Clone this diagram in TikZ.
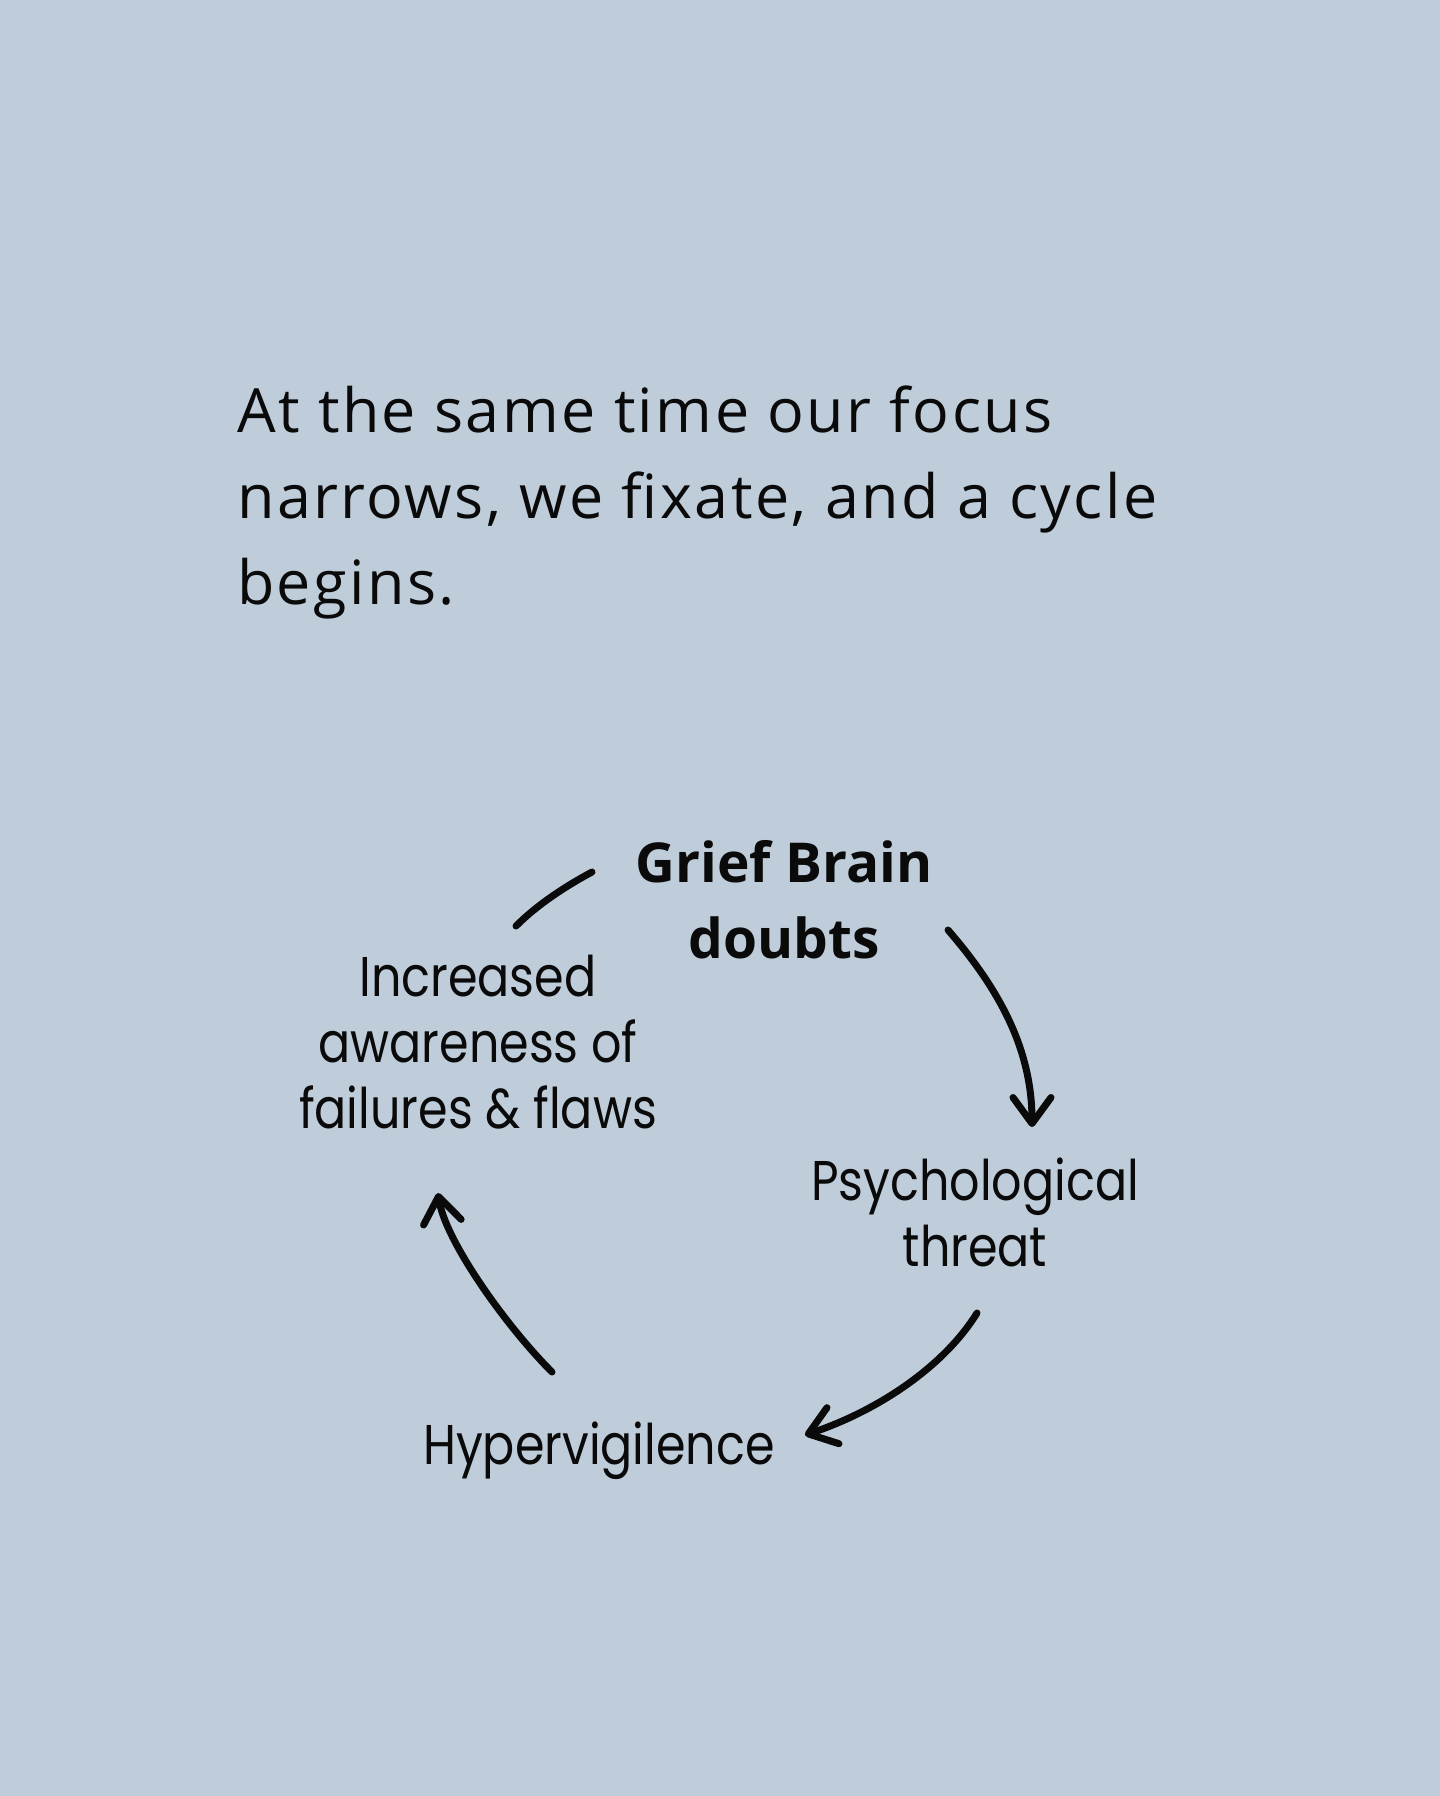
\documentclass[tikz,border=0pt]{standalone}
\usepackage{fontspec}
\setmainfont{Open Sans}
\newfontfamily\titlefont[LetterSpace=4]{Open Sans}
\newfontfamily\boldfont{Open Sans Bold}
\newfontfamily\geofont[FakeStretch=0.85]{Poppins}
\usetikzlibrary{arrows.meta}
\definecolor{bg}{RGB}{191,205,219}
\definecolor{ink}{RGB}{10,10,10}
\tikzset{
  titletext/.style={anchor=base west, inner sep=0pt, align=left, text=ink,
    font=\titlefont\fontsize{61}{86}\selectfont},
  boldlabel/.style={anchor=base, inner sep=0pt, align=center, text=ink,
    font=\boldfont\fontsize{55}{76}\selectfont},
  geolabel/.style={anchor=base, inner sep=0pt, align=center, text=ink,
    font=\geofont\fontsize{56}{66}\selectfont},
  cyclearrow/.style={draw=ink, line width=7pt, line cap=round,
    -{Straight Barb[length=26pt,width=38pt,round]}},
  cycleline/.style={draw=ink, line width=7pt, line cap=round}
}
\begin{document}
\begin{tikzpicture}[x=1pt,y=-1pt]
\useasboundingbox (0,0) rectangle (1440,1796);
\fill[bg] (0,0) rectangle (1440,1796);
% multi-line nodes: base anchor = baseline of the last line
\node[titletext] (title) at (237,604) {At the same time our focus\\narrows, we fixate, and a cycle\\begins.};
\node[boldlabel] (grief) at (784,958) {Grief Brain\\doubts};
\node[geolabel] (aware) at (478,1128) {Increased\\awareness of\\failures \& flaws};
\node[geolabel] (psych) at (975,1266) {Psychological\\threat};
\node[geolabel] (hyper) at (599,1464) {Hypervigilence};
\coordinate (a1s) at (948,930);
\coordinate (a1e) at (1032,1127);
\coordinate (a2s) at (977,1313);
\coordinate (a2e) at (805,1435);
\coordinate (a3s) at (552,1372);
\coordinate (a3e) at (438,1193);
\coordinate (l4s) at (516,926);
\coordinate (l4e) at (592,872);
\draw[cyclearrow] (a1s) .. controls (1000,990) and (1032,1050) .. (a1e);
\draw[cyclearrow] (a2s) .. controls (945,1365) and (880,1410) .. (a2e);
\draw[cyclearrow] (a3s) .. controls (505,1325) and (445,1240) .. (a3e);
\draw[cycleline] (l4s) .. controls (538,904) and (566,886) .. (l4e);
\end{tikzpicture}
\end{document}
